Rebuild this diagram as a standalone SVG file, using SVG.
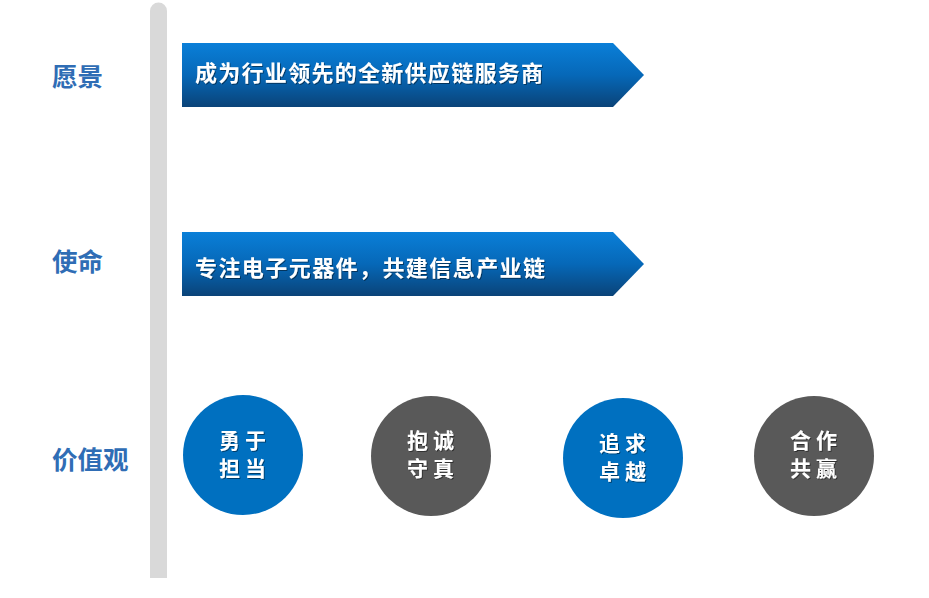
<svg xmlns="http://www.w3.org/2000/svg" width="929" height="598" viewBox="0 0 929 598">
<defs>
<linearGradient id="g" x1="0" y1="0" x2="0" y2="1">
<stop offset="0" stop-color="#0a7fd8"/>
<stop offset="0.5" stop-color="#0668b8"/>
<stop offset="1" stop-color="#0a4378"/>
</linearGradient>
<filter id="sh" x="-10%" y="-10%" width="130%" height="140%">
<feDropShadow dx="1" dy="1" stdDeviation="0.6" flood-color="#000" flood-opacity="0.45"/>
</filter>
</defs>
<style>
.lbl{font-family:"Liberation Sans","Noto Sans CJK SC",sans-serif;font-weight:bold;font-size:25.5px;fill:#2f6db5}
.at{font-family:"Liberation Sans","Noto Sans CJK SC",sans-serif;font-weight:bold;font-size:22px;fill:#fff;filter:url(#sh)}
.ct{font-family:"Liberation Sans","Noto Sans CJK SC",sans-serif;font-weight:bold;font-size:21px;fill:#fff;letter-spacing:5px;text-anchor:middle;filter:url(#sh)}
.blue{fill:#0070c0}
.gray{fill:#595959}
</style>
<rect width="929" height="598" fill="#fff"/>
<path id="bar" d="M150,578 V11 A8.5,8.5 0 0 1 167,11 V578 Z" fill="#d9d9d9"/>
<g id="label-vision"><text class="lbl" x="52" y="86">愿景</text></g>
<g id="label-mission"><text class="lbl" x="52" y="271">使命</text></g>
<g id="label-values"><text class="lbl" x="52" y="469">价值观</text></g>
<g id="arrow-vision">
<polygon points="182,43 613,43 644,75 613,107 182,107" fill="url(#g)"/>
<text class="at" x="195" y="81" textLength="348" lengthAdjust="spacing">成为行业领先的全新供应链服务商</text>
</g>
<g id="arrow-mission">
<polygon points="182,232 613,232 644,264 613,296 182,296" fill="url(#g)"/>
<text class="at" x="195" y="276" textLength="350" lengthAdjust="spacing">专注电子元器件，共建信息产业链</text>
</g>
<g id="value-1">
<circle class="blue" cx="243" cy="455" r="60"/>
<text class="ct" x="245" y="448">勇于</text>
<text class="ct" x="245" y="476">担当</text>
</g>
<g id="value-2">
<circle class="gray" cx="431" cy="456" r="60"/>
<text class="ct" x="433" y="448">抱诚</text>
<text class="ct" x="433" y="476">守真</text>
</g>
<g id="value-3">
<circle class="blue" cx="623" cy="458" r="60"/>
<text class="ct" x="625" y="451">追求</text>
<text class="ct" x="625" y="479">卓越</text>
</g>
<g id="value-4">
<circle class="gray" cx="814" cy="456" r="60"/>
<text class="ct" x="816" y="448">合作</text>
<text class="ct" x="816" y="476">共赢</text>
</g>
<g id="connectors"></g>
</svg>
